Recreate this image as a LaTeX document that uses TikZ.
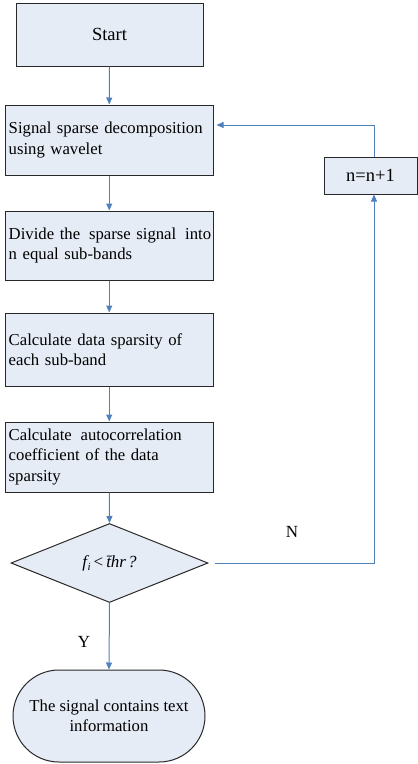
\documentclass[tikz,border=0pt]{standalone}
\usepackage{fontspec}
\setmainfont{Liberation Serif}
\usetikzlibrary{shapes.geometric,arrows.meta}
\definecolor{boxfill}{RGB}{230,236,246}
\definecolor{arrowblue}{RGB}{79,129,189}
\definecolor{boxline}{RGB}{40,40,40}
\tikzset{
  x=1pt,y=1pt,
  procbox/.style={draw=boxline,line width=1pt,fill=boxfill,rectangle,inner sep=0pt,
    minimum width=207.5pt,text width=201pt,align=left,
    font=\fontsize{16.7}{20.5}\selectfont},
  flowarrow/.style={draw=arrowblue,line width=1pt,-{Triangle[length=7pt,width=6pt]}},
  flowline/.style={draw=arrowblue,line width=1pt},
  lbl/.style={font=\fontsize{17}{20.5}\selectfont,inner sep=0pt}
}
\begin{document}
\begin{tikzpicture}
\useasboundingbox (0,0) rectangle (418,-764);
\node[draw=boxline,line width=1pt,fill=boxfill,minimum width=187pt,minimum height=63pt,
  inner sep=0pt,font=\fontsize{18.5}{22}\selectfont] (start) at (109.5,-34.5) {Start};
\node[procbox,minimum height=70pt] (b1) at (109.25,-140) {\mbox{Signal sparse decomposition}\\using wavelet};
\node[procbox,minimum height=69pt] (b2) at (109.25,-245.5) {\mbox{Divide the\hspace{0.2em} sparse signal\hspace{0.2em} into}\\n equal sub-bands};
\node[procbox,minimum height=73pt] (b3) at (109.25,-349.5) {Calculate data sparsity of\\each sub-band};
\node[procbox,minimum height=70pt] (b4) at (109.25,-457) {\mbox{Calculate\hspace{0.2em} autocorrelation}\\coefficient of the data\\sparsity};
\node[diamond,draw=boxline,line width=1pt,fill=boxfill,minimum width=197pt,minimum height=79pt,
  inner sep=0pt,aspect=2.5,font=\fontsize{17}{20.5}\selectfont] (dia) at (109.5,-563)
  {\itshape f\kern0.5pt\raisebox{-3pt}{\fontsize{11}{11}\selectfont i}\kern3pt{\upshape <}\kern3pt\={t}hr\kern2pt?};
\node[draw=boxline,line width=1pt,fill=boxfill,rounded corners=46pt,minimum width=192pt,
  minimum height=92pt,inner sep=0pt,align=center,font=\fontsize{16.7}{20.5}\selectfont] (term)
  at (109,-716) {The signal contains text\\information};
\node[draw=boxline,line width=1pt,fill=boxfill,minimum width=93pt,minimum height=37pt,
  inner sep=0pt,font=\fontsize{18.5}{22}\selectfont] (nbox) at (370.5,-175.5) {n=n+1};
\node[lbl] (nlab) at (292,-532) {N};
\node[lbl] (ylab) at (84,-642) {Y};
\draw[flowarrow] (start.south) -- (b1.north);
\draw[flowarrow] (b1.south) -- (b2.north);
\draw[flowarrow] (b2.south) -- (b3.north);
\draw[flowarrow] (b3.south) -- (b4.north);
\draw[flowarrow] (b4.south) -- (dia.north);
\draw[flowarrow] (dia.south) -- (term.north);
\draw[flowarrow] ([xshift=6pt]dia.east) -| ([xshift=3.5pt]nbox.south);
\draw[flowarrow] ([xshift=3.5pt]nbox.north) |- ([xshift=3pt,yshift=15pt]b1.east);
\end{tikzpicture}
\end{document}
